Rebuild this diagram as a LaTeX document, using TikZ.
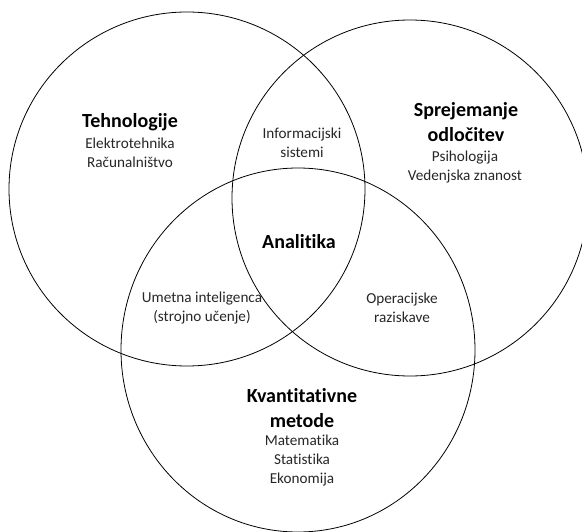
\documentclass[tikz,border=0pt]{standalone}
\usepackage{fontspec}
\setmainfont[RawFeature={-liga;-clig;-dlig}]{Carlito}
\begin{document}
\begin{tikzpicture}[x=1pt,y=-1pt,
  ring/.style={draw=black, line width=0.8pt},
  head/.style={font=\bfseries\fontsize{20}{25}\selectfont, align=center, inner sep=0pt},
  sub/.style={font=\fontsize{15.2}{19}\selectfont, align=center, inner sep=0pt, text=black!85}]
  \useasboundingbox (0,0) rectangle (582,532);
  \clip (0,0) rectangle (582,532);

  % the three overlapping fields
  \draw[ring] (187,189) ellipse [x radius=178, y radius=177];
  \draw[ring] (410,198) ellipse [x radius=178, y radius=178];
  \draw[ring] (298,350) ellipse [x radius=177, y radius=182];

  % Technology
  \node[head] (techT) at (130,122) {Tehnologije};
  \node[sub]  (techS) at (130,152.5) {Elektrotehnika\\Računalništvo};

  % Decision making
  \node[head] (decT) at (466,122.5) {Sprejemanje\\odločitev};
  \node[sub]  (decS) at (465,167) {Psihologija\\Vedenjska znanost};

  % Quantitative methods
  \node[head] (quantT) at (302,408.5) {Kvantitativne\\metode};
  \node[sub]  (quantS) at (302,461) {Matematika\\Statistika\\Ekonomija};

  % Pairwise overlaps
  \node[sub] (info) at (302,142.5) {Informacijski\\sistemi};
  \node[sub] (ai)   at (202,308) {Umetna inteligenca\\(strojno učenje)};
  \node[sub] (opr)  at (402,308) {Operacijske\\raziskave};

  % Common core
  \node[head] (core) at (299,242) {Analitika};
\end{tikzpicture}
\end{document}
